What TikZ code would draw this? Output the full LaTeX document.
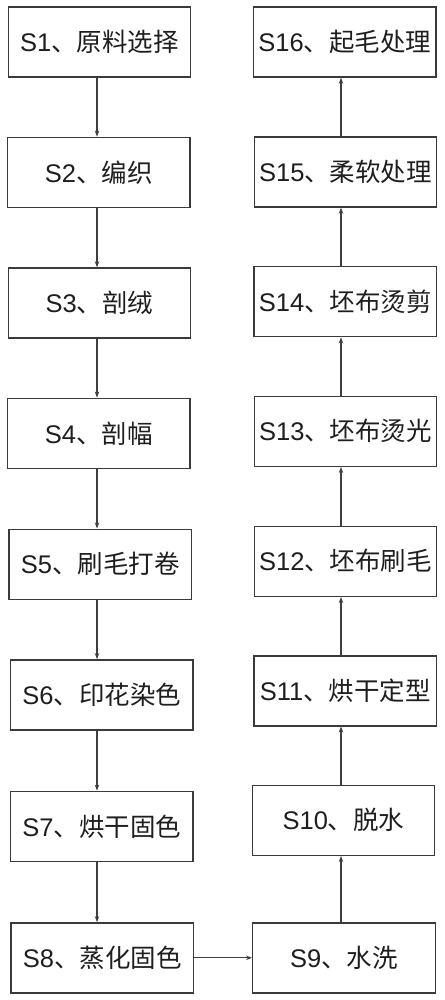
\documentclass[tikz,border=0pt]{standalone}
\usepackage{fontspec}
\setmainfont{Liberation Sans}
\newfontfamily\cjk{Noto Sans CJK SC}
\usetikzlibrary{arrows.meta}
\definecolor{boxc}{HTML}{3A3A3A}
\definecolor{linec}{HTML}{3F3F3F}
\definecolor{txtc}{HTML}{1E1E1E}
\newcommand\steplab[2]{#1{\cjk 、#2}}
\begin{document}
\begin{tikzpicture}[x=1pt,y=-1pt,
  box/.style={draw=boxc, line width=1.4pt, minimum width=182.5pt, minimum height=70pt,
    inner sep=0pt, text=txtc, font=\fontsize{25.5}{30}\selectfont},
  arr/.style={draw=linec, line width=1.1pt, -{Stealth[length=6pt,width=4.5pt]}}]
\useasboundingbox (0,0) rectangle (444,1000);
% left column
\node[box] (s1) at (99.5,42)   {\steplab{S1}{原料选择}};
\node[box] (s2) at (98.7,172.3) {\steplab{S2}{编织}};
\node[box] (s3) at (99.5,303)   {\steplab{S3}{剖绒}};
\node[box] (s4) at (98.7,433.3) {\steplab{S4}{剖幅}};
\node[box] (s5) at (100.3,564.2) {\steplab{S5}{刷毛打卷}};
\node[box] (s6) at (101.7,694.8) {\steplab{S6}{印花染色}};
\node[box] (s7) at (101.8,826.3) {\steplab{S7}{烘干固色}};
\node[box] (s8) at (102.3,957.8) {\steplab{S8}{蒸化固色}};
% right column
\node[box] (s9)  at (344,957.8)  {\steplab{S9}{水洗}};
\node[box] (s10) at (343.5,820.3) {\steplab{S10}{脱水}};
\node[box] (s11) at (345.3,690.8) {\steplab{S11}{烘干定型}};
\node[box] (s12) at (345.5,561.3) {\steplab{S12}{坯布刷毛}};
\node[box] (s13) at (345.5,431.3) {\steplab{S13}{坯布烫光}};
\node[box] (s14) at (345.3,301.7) {\steplab{S14}{坯布烫剪}};
\node[box] (s15) at (345.5,172)   {\steplab{S15}{柔软处理}};
\node[box] (s16) at (344.8,42)    {\steplab{S16}{起毛处理}};
\coordinate (xl) at (97,0);
\coordinate (xr) at (341,0);
% left arrows (down)
\foreach \a/\b in {s1/s2,s2/s3,s3/s4,s4/s5,s5/s6,s6/s7,s7/s8}
  \draw[arr] (\a.south -| xl) -- (\b.north -| xl);
% across
\draw[arr] (s8.east) -- (s9.west |- s8.east);
% right arrows (up)
\foreach \a/\b in {s9/s10,s10/s11,s11/s12,s12/s13,s13/s14,s14/s15,s15/s16}
  \draw[arr] (\a.north -| xr) -- (\b.south -| xr);
\end{tikzpicture}
\end{document}
